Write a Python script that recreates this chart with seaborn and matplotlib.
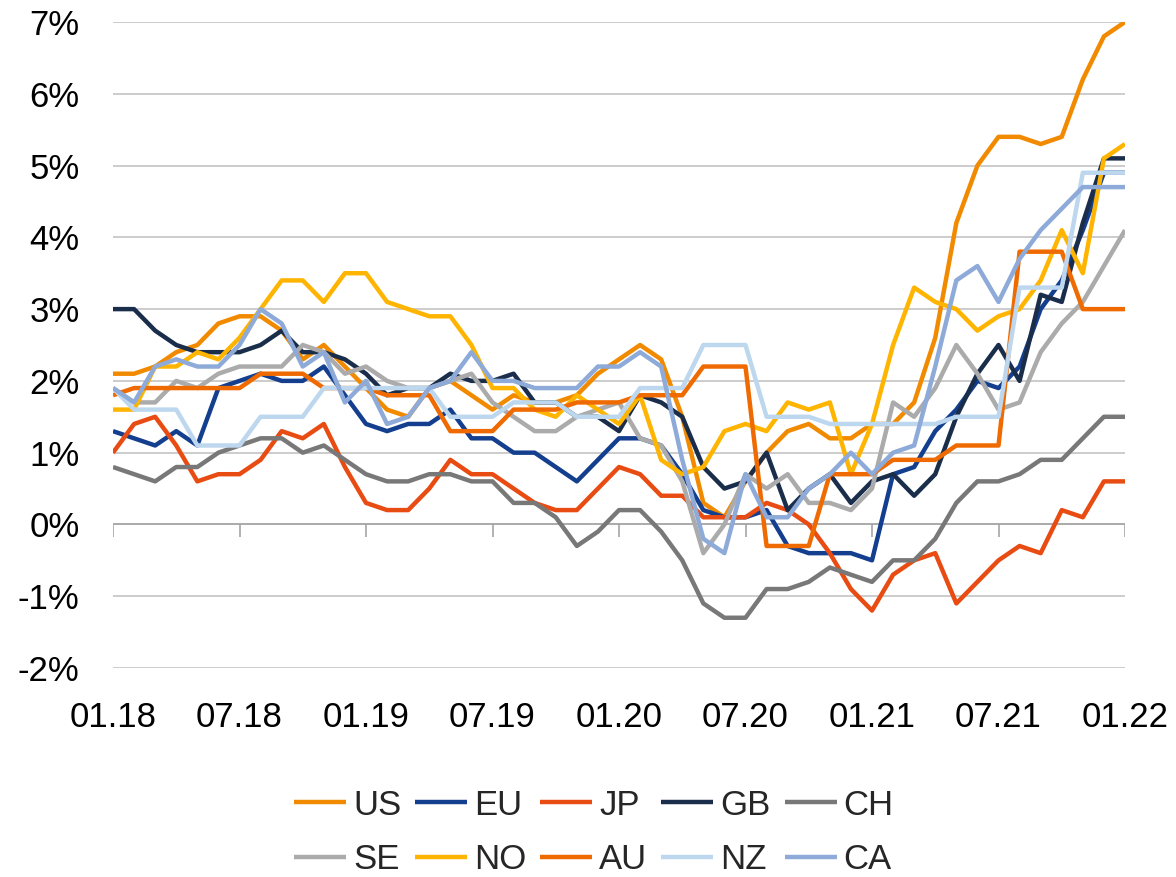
import matplotlib
matplotlib.use("Agg")
import matplotlib.pyplot as plt
import pandas as pd
import seaborn as sns

# ---- data (monthly, index 0 = first point, labelled 01.18) ----
tick_pos = [0, 6, 12, 18, 24, 30, 36, 42, 48]
tick_labels = ["01.18", "07.18", "01.19", "07.19", "01.20", "07.20", "01.21", "07.21", "01.22"]
y_ticks = [-2, -1, 0, 1, 2, 3, 4, 5, 6, 7]
y_labels = ["-2%", "-1%", "0%", "1%", "2%", "3%", "4%", "5%", "6%", "7%"]

countries = ["US", "EU", "JP", "GB", "CH", "SE", "NO", "AU", "NZ", "CA"]

us = [2.1, 2.1, 2.2, 2.4, 2.5, 2.8, 2.9, 2.9, 2.7, 2.3, 2.5, 2.2,
      1.9, 1.6, 1.5, 1.9, 2.0, 1.8, 1.6, 1.8, 1.7, 1.7, 1.8, 2.1,
      2.3, 2.5, 2.3, 1.5, 0.3, 0.1, 0.6, 1.0, 1.3, 1.4, 1.2, 1.2,
      1.4, 1.4, 1.7, 2.6, 4.2, 5.0, 5.4, 5.4, 5.3, 5.4, 6.2, 6.8, 7.0]
eu = [1.3, 1.2, 1.1, 1.3, 1.1, 1.9, 2.0, 2.1, 2.0, 2.0, 2.2, 1.8,
      1.4, 1.3, 1.4, 1.4, 1.6, 1.2, 1.2, 1.0, 1.0, 0.8, 0.6, 0.9,
      1.2, 1.2, 1.1, 0.7, 0.2, 0.1, 0.1, 0.2, -0.3, -0.4, -0.4, -0.4,
      -0.5, 0.7, 0.8, 1.3, 1.6, 2.0, 1.9, 2.2, 3.0, 3.4, 4.1, 4.9, 4.9]
jp = [1.0, 1.4, 1.5, 1.1, 0.6, 0.7, 0.7, 0.9, 1.3, 1.2, 1.4, 0.8,
      0.3, 0.2, 0.2, 0.5, 0.9, 0.7, 0.7, 0.5, 0.3, 0.2, 0.2, 0.5,
      0.8, 0.7, 0.4, 0.4, 0.1, 0.1, 0.1, 0.3, 0.2, 0.0, -0.4, -0.9,
      -1.2, -0.7, -0.5, -0.4, -1.1, -0.8, -0.5, -0.3, -0.4, 0.2, 0.1, 0.6, 0.6]
gb = [3.0, 3.0, 2.7, 2.5, 2.4, 2.4, 2.4, 2.5, 2.7, 2.4, 2.4, 2.3,
      2.1, 1.8, 1.9, 1.9, 2.1, 2.0, 2.0, 2.1, 1.7, 1.7, 1.5, 1.5,
      1.3, 1.8, 1.7, 1.5, 0.8, 0.5, 0.6, 1.0, 0.2, 0.5, 0.7, 0.3,
      0.6, 0.7, 0.4, 0.7, 1.5, 2.1, 2.5, 2.0, 3.2, 3.1, 4.2, 5.1, 5.1]
ch = [0.8, 0.7, 0.6, 0.8, 0.8, 1.0, 1.1, 1.2, 1.2, 1.0, 1.1, 0.9,
      0.7, 0.6, 0.6, 0.7, 0.7, 0.6, 0.6, 0.3, 0.3, 0.1, -0.3, -0.1,
      0.2, 0.2, -0.1, -0.5, -1.1, -1.3, -1.3, -0.9, -0.9, -0.8, -0.6, -0.7,
      -0.8, -0.5, -0.5, -0.2, 0.3, 0.6, 0.6, 0.7, 0.9, 0.9, 1.2, 1.5, 1.5]
se = [1.9, 1.7, 1.7, 2.0, 1.9, 2.1, 2.2, 2.2, 2.2, 2.5, 2.4, 2.1,
      2.2, 2.0, 1.9, 1.9, 2.0, 2.1, 1.7, 1.5, 1.3, 1.3, 1.5, 1.6,
      1.7, 1.2, 1.1, 0.6, -0.4, 0.0, 0.7, 0.5, 0.7, 0.3, 0.3, 0.2,
      0.5, 1.7, 1.5, 1.9, 2.5, 2.1, 1.6, 1.7, 2.4, 2.8, 3.1, 3.6, 4.1]
no = [1.6, 1.6, 2.2, 2.2, 2.4, 2.3, 2.6, 3.0, 3.4, 3.4, 3.1, 3.5,
      3.5, 3.1, 3.0, 2.9, 2.9, 2.5, 1.9, 1.9, 1.6, 1.5, 1.8, 1.6,
      1.4, 1.8, 0.9, 0.7, 0.8, 1.3, 1.4, 1.3, 1.7, 1.6, 1.7, 0.7,
      1.4, 2.5, 3.3, 3.1, 3.0, 2.7, 2.9, 3.0, 3.4, 4.1, 3.5, 5.1, 5.3]
au = [1.8, 1.9, 1.9, 1.9, 1.9, 1.9, 1.9, 2.1, 2.1, 2.1, 1.9, 1.9,
      1.9, 1.8, 1.8, 1.8, 1.3, 1.3, 1.3, 1.6, 1.6, 1.6, 1.7, 1.7,
      1.7, 1.8, 1.8, 1.8, 2.2, 2.2, 2.2, -0.3, -0.3, -0.3, 0.7, 0.7,
      0.7, 0.9, 0.9, 0.9, 1.1, 1.1, 1.1, 3.8, 3.8, 3.8, 3.0, 3.0, 3.0]
nz = [1.9, 1.6, 1.6, 1.6, 1.1, 1.1, 1.1, 1.5, 1.5, 1.5, 1.9, 1.9,
      1.9, 1.9, 1.9, 1.9, 1.5, 1.5, 1.5, 1.7, 1.7, 1.7, 1.5, 1.5,
      1.5, 1.9, 1.9, 1.9, 2.5, 2.5, 2.5, 1.5, 1.5, 1.5, 1.4, 1.4,
      1.4, 1.4, 1.4, 1.4, 1.5, 1.5, 1.5, 3.3, 3.3, 3.3, 4.9, 4.9, 4.9]
ca = [1.9, 1.7, 2.2, 2.3, 2.2, 2.2, 2.5, 3.0, 2.8, 2.2, 2.4, 1.7,
      2.0, 1.4, 1.5, 1.9, 2.0, 2.4, 2.0, 2.0, 1.9, 1.9, 1.9, 2.2,
      2.2, 2.4, 2.2, 0.9, -0.2, -0.4, 0.7, 0.1, 0.1, 0.5, 0.7, 1.0,
      0.7, 1.0, 1.1, 2.2, 3.4, 3.6, 3.1, 3.7, 4.1, 4.4, 4.7, 4.7, 4.7]

series = [us, eu, jp, gb, ch, se, no, au, nz, ca]
colors = ["#F28A00", "#143F8F", "#E84C12", "#1A2E4C", "#787878",
          "#ABABAB", "#FFB400", "#EF6A00", "#BDD7EE", "#8DAAD8"]

# ---- long-form table ----
rows = []
for name, vals in zip(countries, series):
    for m, v in enumerate(vals):
        rows.append({"month": m, "value": v, "country": name})
df = pd.DataFrame(rows)

sns.set_style("white")
plt.rcParams["font.family"] = ["Liberation Sans", "DejaVu Sans"]

FS = 25
fig = plt.figure(figsize=(11.76, 8.77), dpi=100)
ax = fig.add_axes([113 / 1176, 1 - 668 / 877, (1125 - 113) / 1176, (668 - 22) / 877])

sns.lineplot(data=df, x="month", y="value", hue="country", hue_order=countries,
             palette=dict(zip(countries, colors)), linewidth=3.2, ax=ax,
             legend=False, estimator=None, sort=False)
lines = ax.get_lines()[:len(countries)]
for ln in lines:
    ln.set_solid_joinstyle("round")
    ln.set_solid_capstyle("butt")

ax.set_xlim(0, 48)
ax.set_ylim(-2, 7)
ax.set_yticks(y_ticks)
ax.set_yticklabels(y_labels)
ax.set_xticks(tick_pos)
ax.set_xticklabels(tick_labels)
ax.yaxis.grid(True, color="#BFBFBF", linewidth=1.1)
ax.xaxis.grid(False)
ax.set_axisbelow(True)
ax.axhline(0, color="#A6A6A6", linewidth=1.2, zorder=1)
ax.vlines(tick_pos, -0.17, 0, color="#A6A6A6", linewidth=1.2, zorder=1)
for s in ax.spines.values():
    s.set_visible(False)
ax.tick_params(axis="both", length=0, labelsize=FS, colors="black")
ax.tick_params(axis="y", pad=24)
ax.tick_params(axis="x", pad=24)
ax.set_xlabel("")
ax.set_ylabel("")

order = [0, 5, 1, 6, 2, 7, 3, 8, 4, 9]
handles = [lines[i] for i in order]
labels = [countries[i] for i in order]
fig.legend(handles, labels, loc="center", bbox_to_anchor=(0.505, 0.051), ncol=5,
           frameon=False, fontsize=FS, handlelength=1.5, handletextpad=0.2,
           columnspacing=0.4, labelspacing=0.62)

fig.savefig("out.png", dpi=100)
